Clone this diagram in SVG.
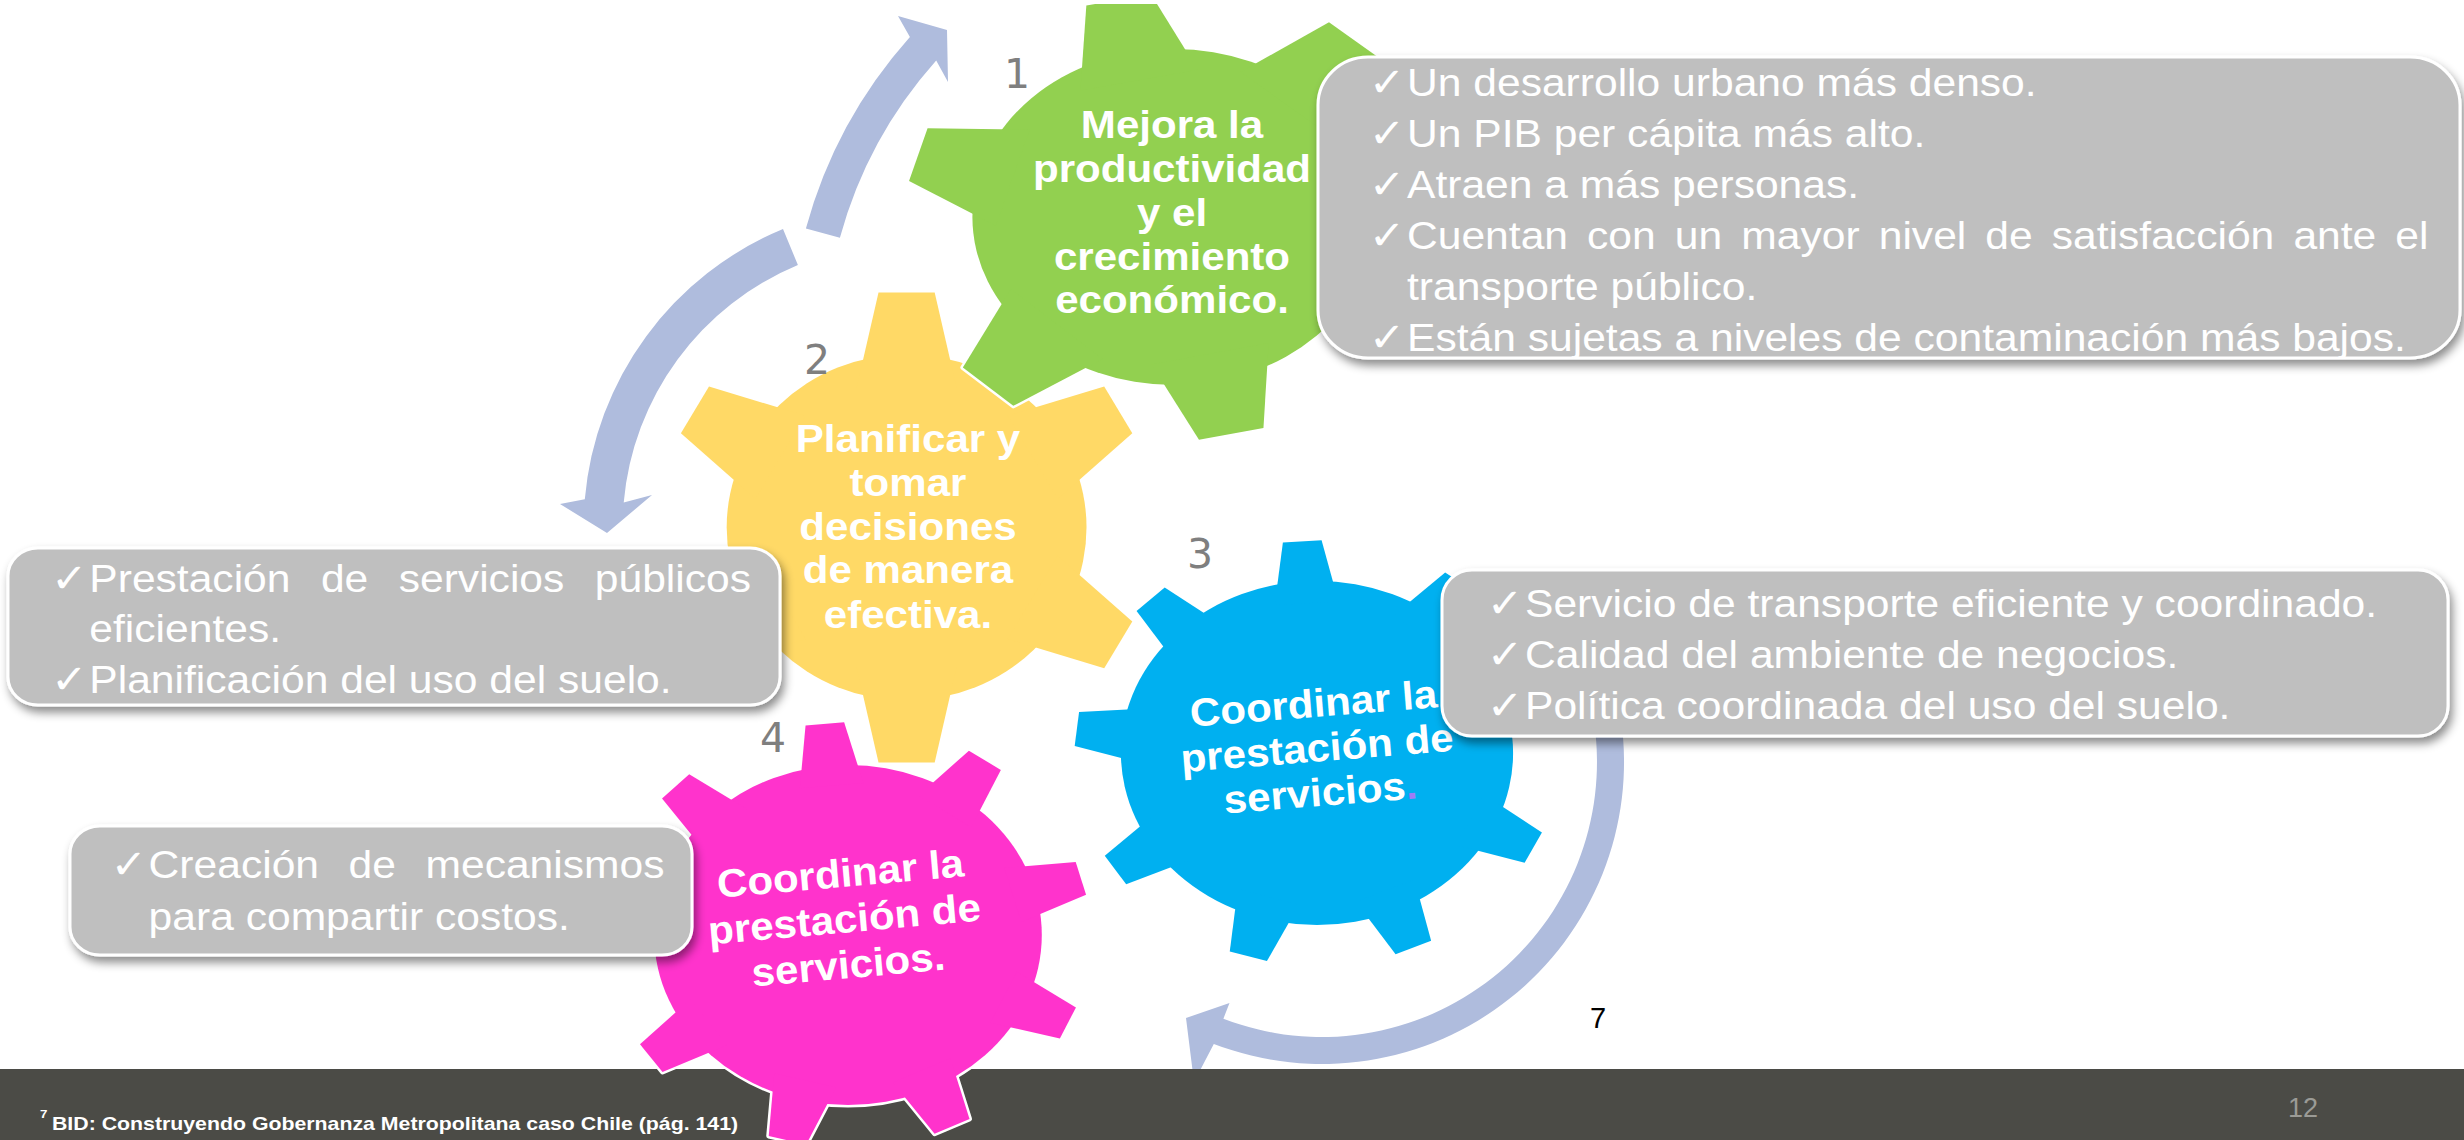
<svg xmlns="http://www.w3.org/2000/svg" xmlns:xlink="http://www.w3.org/1999/xlink" width="2464" height="1140" viewBox="0 0 2464 1140">
<style>
.gt{font-family:"Liberation Sans",Arial,sans-serif;font-weight:bold;font-size:39.5px;fill:#fff;text-anchor:middle}
.bt{font-family:"Liberation Sans",Arial,sans-serif;font-size:39px;fill:#fff}
.ck{font-family:"DejaVu Sans",sans-serif;font-size:40px;fill:#fff}
.num{font-family:"DejaVu Sans",sans-serif;font-size:41px;fill:#7F7F7F;text-anchor:middle}
.box{fill:#BFBFBF;stroke:#fff;stroke-width:3;filter:url(#sh)}
.arrow{fill:#AFBCDD}
.ft{font-family:"Liberation Sans",Arial,sans-serif;font-weight:bold;font-size:17.5px;fill:#fff}
.ol{fill:#fff;stroke:#fff;stroke-width:5;stroke-linejoin:round}
</style>
<defs>
<filter id="sh" x="-5%" y="-10%" width="112%" height="130%"><feDropShadow dx="3" dy="6" stdDeviation="5" flood-color="#000" flood-opacity="0.45"/></filter>
<polygon id="t6g" points="-50,-140 -27.5,-222 27.5,-222 50,-140" vector-effect="non-scaling-stroke"/>
<polygon id="t6y" points="-48,-140 -27,-235 27,-235 48,-140" vector-effect="non-scaling-stroke"/>
<polygon id="t9" points="-28,-150 -17,-212 17,-212 28,-150" vector-effect="non-scaling-stroke"/>
<clipPath id="cliptop"><rect x="0" y="4" width="2464" height="1136"/></clipPath>
<g id="g1teeth"><circle r="168" vector-effect="non-scaling-stroke"/><use href="#t6g" transform="rotate(-12)"/><use href="#t6g" transform="rotate(40.6) scale(1.045)"/><use href="#t6g" transform="rotate(104)"/><use href="#t6g" transform="rotate(167.6)"/><use href="#t6g" transform="rotate(222.4) scale(1.035)"/><use href="#t6g" transform="rotate(286.3)"/></g>
<g id="g2teeth"><circle r="173" vector-effect="non-scaling-stroke"/><use href="#t6y"/><use href="#t6y" transform="rotate(60)"/><use href="#t6y" transform="rotate(120)"/><use href="#t6y" transform="rotate(180)"/><use href="#t6y" transform="rotate(240)"/><use href="#t6y" transform="rotate(300)"/></g>
<g id="g3teeth"><circle r="172" vector-effect="non-scaling-stroke"/><use href="#t9" transform="rotate(-3.5)"/><use href="#t9" transform="rotate(36.5)"/><use href="#t9" transform="rotate(76.5)"/><use href="#t9" transform="rotate(116.5)"/><use href="#t9" transform="rotate(156.5)"/><use href="#t9" transform="rotate(196.5)"/><use href="#t9" transform="rotate(236.5)"/><use href="#t9" transform="rotate(276.5)"/><use href="#t9" transform="rotate(316.5)"/></g>
<g id="g4teeth"><circle r="170" vector-effect="non-scaling-stroke"/><use href="#t9" transform="rotate(-5.5)"/><use href="#t9" transform="rotate(34.5)"/><use href="#t9" transform="rotate(74.5)"/><use href="#t9" transform="rotate(114.5)"/><use href="#t9" transform="rotate(154.5)"/><use href="#t9" transform="rotate(194.5)"/><use href="#t9" transform="rotate(234.5)"/><use href="#t9" transform="rotate(274.5)"/><use href="#t9" transform="rotate(314.5)"/></g>
</defs>
<rect width="2464" height="1140" fill="#fff"/>

<g id="connectors">
<path class="arrow" d="M 805.9,228.4 A 476 476 0 0 1 909.9,37 L 898,16 L 947,30 L 948,82 L 936.2,60.5 A 440.7 440.7 0 0 0 839.9,237.7 Z"/>
<path class="arrow" d="M 783,229 A 323 323 0 0 0 584.8,499.2 L 560,504 L 607,533 L 652,495 L 623.7,502.6 A 284 284 0 0 1 797.9,265 Z"/>
<path class="arrow" d="M 1621.1,720 A 302 302 0 0 1 1213.8,1043.9 L 1194,1082 L 1186,1018 L 1229.5,1002.9 L 1223.4,1018.7 A 275 275 0 0 0 1594.3,723.7 Z"/>
</g>

<g id="footer">
<rect x="0" y="1069" width="2464" height="71" fill="#4B4B46"/>
<g transform="translate(40,1118) scale(1.217,1)"><text class="ft" style="font-size:11px">7</text></g>
<g transform="translate(52,1130) scale(1.217,1)"><text class="ft">BID: Construyendo Gobernanza Metropolitana caso Chile (pág. 141)</text></g>
<text x="2303" y="1117" font-family="Liberation Sans, Arial, sans-serif" font-size="27" fill="#9B9B96" text-anchor="middle">12</text>
</g>

<g id="gear2">
<g transform="translate(906.6,527.4) scale(1.04,1)">
<use href="#g2teeth" class="ol"/>
<use href="#g2teeth" fill="#FFD966"/>
</g>
<g transform="translate(908,0) scale(1.065,1)">
<text class="gt" x="0" y="451.7">Planificar y</text>
<text class="gt" x="0" y="496.5">tomar</text>
<text class="gt" x="0" y="540">decisiones</text>
<text class="gt" x="0" y="583.5">de manera</text>
<text class="gt" x="0" y="628">efectiva.</text>
</g>
<text class="num" x="817" y="374">2</text>
</g>

<g id="gear1">
<g clip-path="url(#cliptop)">
<g transform="translate(1174,217) scale(1.2,1)">
<use href="#g1teeth" class="ol"/>
<use href="#g1teeth" fill="#92D050"/>
</g>
</g>
<g transform="translate(1172,0) scale(1.065,1)">
<text class="gt" x="0" y="138.3">Mejora la</text>
<text class="gt" x="0" y="182">productividad</text>
<text class="gt" x="0" y="226.5">y el</text>
<text class="gt" x="0" y="270">crecimiento</text>
<text class="gt" x="0" y="313.5">económico.</text>
</g>
<text class="num" x="1017" y="88">1</text>
</g>

<g id="gear3">
<g transform="translate(1317,753) scale(1.14,1)">
<use href="#g3teeth" class="ol"/>
<use href="#g3teeth" fill="#00B0F0"/>
</g>
<g transform="translate(1318,761.4) rotate(-4.5) scale(1.065,1)">
<text class="gt" x="0" y="-44.6">Coordinar la</text>
<text class="gt" x="0" y="0">prestación de</text>
<text class="gt" x="0" y="44.6">servicios<tspan fill="#9F7CF5">.</tspan></text>
</g>
<text class="num" x="1200" y="568">3</text>
</g>

<g id="gear4">
<g transform="translate(848,935) scale(1.14,1)">
<use href="#g4teeth" class="ol"/>
<use href="#g4teeth" fill="#FF33CC"/>
</g>
<g transform="translate(845.5,932.5) rotate(-5) scale(1.065,1)">
<text class="gt" x="0" y="-45.7">Coordinar la</text>
<text class="gt" x="0" y="0">prestación de</text>
<text class="gt" x="0" y="45.7">servicios.</text>
</g>
<text class="num" x="773" y="752">4</text>
</g>

<g id="box1">
<rect class="box" x="1318" y="57" width="1142" height="301" rx="50" ry="48"/>
<g transform="translate(1407,0) scale(1.092,1)">
<text class="ck" x="-35" y="96.5">✓</text><text class="bt" x="0" y="96.5">Un desarrollo urbano más denso.</text>
<text class="ck" x="-35" y="147.5">✓</text><text class="bt" x="0" y="147.5">Un PIB per cápita más alto.</text>
<text class="ck" x="-35" y="198.5">✓</text><text class="bt" x="0" y="198.5">Atraen a más personas.</text>
<text class="ck" x="-35" y="249.5">✓</text>
<text class="bt" y="249.5"><tspan x="0">Cuentan</tspan><tspan x="164.91">con</tspan><tspan x="245.27">un</tspan><tspan x="306.13">mayor</tspan><tspan x="431.96">nivel</tspan><tspan x="529.63">de</tspan><tspan x="590.49">satisfacción</tspan><tspan x="811.72">ante</tspan><tspan x="905.1">el</tspan></text>
<text class="bt" x="0" y="300.5">transporte público.</text>
<text class="ck" x="-35" y="351.5">✓</text><text class="bt" x="0" y="351.5">Están sujetas a niveles de contaminación más bajos.</text>
</g>
</g>

<g id="box2">
<rect class="box" x="8" y="548" width="772" height="157" rx="30" ry="28"/>
<g transform="translate(89.3,0) scale(1.092,1)">
<text class="ck" x="-35" y="591.7">✓</text>
<text class="bt" y="591.7"><tspan x="0">Prestación</tspan><tspan x="212.11">de</tspan><tspan x="283.35">servicios</tspan><tspan x="462.89">públicos</tspan></text>
<text class="bt" x="0" y="641.7">eficientes.</text>
<text class="ck" x="-35" y="692.7">✓</text><text class="bt" x="0" y="692.7">Planificación del uso del suelo.</text>
</g>
</g>

<g id="box3">
<rect class="box" x="1442" y="570" width="1006" height="166" rx="30" ry="30"/>
<g transform="translate(1525,0) scale(1.092,1)">
<text class="ck" x="-35" y="617">✓</text><text class="bt" x="0" y="617">Servicio de transporte eficiente y coordinado.</text>
<text class="ck" x="-35" y="668">✓</text><text class="bt" x="0" y="668">Calidad del ambiente de negocios.</text>
<text class="ck" x="-35" y="719">✓</text><text class="bt" x="0" y="719">Política coordinada del uso del suelo.</text>
</g>
</g>

<g id="box4">
<rect class="box" x="70" y="826" width="622" height="129" rx="30" ry="28"/>
<g transform="translate(148.6,0) scale(1.092,1)">
<text class="ck" x="-35" y="878.3">✓</text>
<text class="bt" y="878.3"><tspan x="0">Creación</tspan><tspan x="183.12">de</tspan><tspan x="253.57">mecanismos</tspan></text>
<text class="bt" x="0" y="930">para compartir costos.</text>
</g>
</g>

<text x="1598" y="1028" font-family="Liberation Sans, Arial, sans-serif" font-size="29" fill="#000" text-anchor="middle">7</text>
</svg>
